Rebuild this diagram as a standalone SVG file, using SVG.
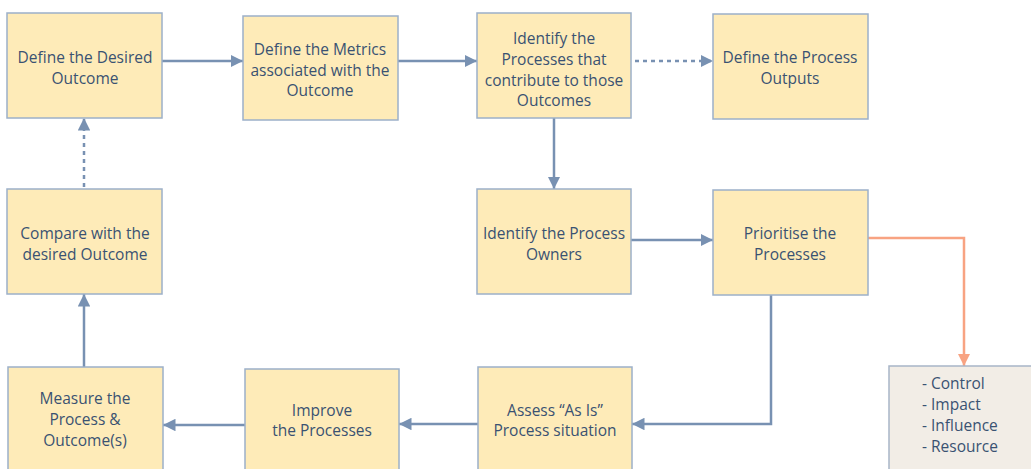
<svg xmlns="http://www.w3.org/2000/svg" width="1031" height="469" viewBox="0 0 1031 469">
<defs>
<style>
.box{fill:#FEEBB8;stroke:#9CB0C9;stroke-width:1.5}
.gbox{fill:#F2EDE6;stroke:#A8B5C7;stroke-width:1.5}
.t{font-family:"Open Sans","Noto Sans",sans-serif;font-size:15.5px;fill:#3A5272;text-anchor:middle;dominant-baseline:central}
.tl{font-family:"Open Sans","Noto Sans",sans-serif;font-size:15.5px;fill:#3A5272;dominant-baseline:central}
.c{fill:none;stroke:#7891B2;stroke-width:2.5}
.d{fill:none;stroke:#7891B2;stroke-width:2.5;stroke-dasharray:4 4}
.o{fill:none;stroke:#F8A382;stroke-width:2.5}
</style>
<marker id="ah" viewBox="0 0 10 10" refX="10" refY="5" markerWidth="5" markerHeight="5" markerUnits="strokeWidth" orient="auto">
<path d="M0,0 L10,5 L0,10 Z" fill="#7891B2"/>
</marker>
<marker id="ao" viewBox="0 0 10 10" refX="10" refY="5" markerWidth="5" markerHeight="5" markerUnits="strokeWidth" orient="auto">
<path d="M0,0 L10,5 L0,10 Z" fill="#F8A382"/>
</marker>
</defs>
<rect width="1031" height="469" fill="#FFFFFF"/>
<g id="connectors">
<path class="c" d="M162,61 H243" marker-end="url(#ah)"/>
<path class="c" d="M398,61 H477" marker-end="url(#ah)"/>
<path class="d" d="M635,61 H713" marker-end="url(#ah)"/>
<path class="c" d="M554,118 V189" marker-end="url(#ah)"/>
<path class="c" d="M631,240 H713" marker-end="url(#ah)"/>
<path class="o" d="M868,238 H964 V366" marker-end="url(#ao)"/>
<path class="c" d="M771,295 V424 H632" marker-end="url(#ah)"/>
<path class="c" d="M478,424 H399" marker-end="url(#ah)"/>
<path class="c" d="M245,425 H163" marker-end="url(#ah)"/>
<path class="c" d="M84,367 V294" marker-end="url(#ah)"/>
<path class="d" d="M84,187 V118" marker-end="url(#ah)"/>
</g>
<g id="n1"><rect class="box" x="7" y="13" width="155" height="105"/>
<text class="t" x="85" y="57">Define the Desired</text><text class="t" x="85" y="78">Outcome</text></g>
<g id="n2"><rect class="box" x="243" y="16" width="155" height="104"/>
<text class="t" x="320" y="49">Define the Metrics</text><text class="t" x="320" y="70">associated with the</text><text class="t" x="320" y="90">Outcome</text></g>
<g id="n3"><rect class="box" x="477" y="13" width="154" height="105"/>
<text class="t" x="554" y="38">Identify the</text><text class="t" x="554" y="59">Processes that</text><text class="t" x="554" y="80">contribute to those</text><text class="t" x="554" y="100">Outcomes</text></g>
<g id="n4"><rect class="box" x="713" y="14" width="155" height="105"/>
<text class="t" x="790" y="57">Define the Process</text><text class="t" x="790" y="78">Outputs</text></g>
<g id="n5"><rect class="box" x="7" y="189" width="155" height="105"/>
<text class="t" x="85" y="233">Compare with the</text><text class="t" x="85" y="254">desired Outcome</text></g>
<g id="n6"><rect class="box" x="477" y="189" width="154" height="105"/>
<text class="t" x="554" y="233">Identify the Process</text><text class="t" x="554" y="254">Owners</text></g>
<g id="n7"><rect class="box" x="713" y="190" width="155" height="105"/>
<text class="t" x="790" y="233">Prioritise the</text><text class="t" x="790" y="254">Processes</text></g>
<g id="n8"><rect class="gbox" x="889" y="366" width="150" height="110"/>
<text class="tl" x="922" y="383">- Control</text><text class="tl" x="922" y="404">- Impact</text><text class="tl" x="922" y="425">- Influence</text><text class="tl" x="922" y="446">- Resource</text></g>
<g id="n9"><rect class="box" x="478" y="367" width="154" height="110"/>
<text class="t" x="555" y="410">Assess “As Is”</text><text class="t" x="555" y="430">Process situation</text></g>
<g id="n10"><rect class="box" x="245" y="369" width="154" height="110"/>
<text class="t" x="322" y="410">Improve</text><text class="t" x="322" y="430">the Processes</text></g>
<g id="n11"><rect class="box" x="8" y="367" width="155" height="110"/>
<text class="t" x="85" y="398">Measure the</text><text class="t" x="85" y="419">Process &amp;</text><text class="t" x="85" y="440">Outcome(s)</text></g>
</svg>
